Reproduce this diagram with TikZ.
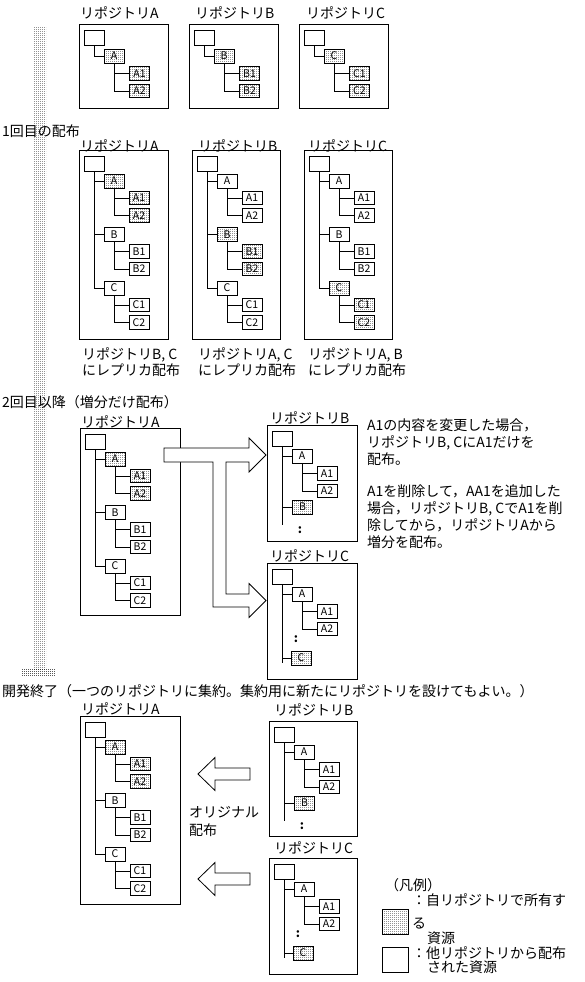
\documentclass[tikz,border=0pt]{standalone}
\usepackage{fontspec}
\setmainfont{Noto Sans CJK JP}
\usetikzlibrary{patterns,positioning}

\pgfdeclarepatternformonly{finedots}{\pgfqpoint{0pt}{0pt}}{\pgfqpoint{2pt}{2pt}}{\pgfqpoint{2pt}{2pt}}{%
	\pgfpathrectangle{\pgfqpoint{0pt}{0pt}}{\pgfqpoint{1pt}{1pt}}\pgfusepath{fill}}

% full tree: root, A/B/C with two leaves each
\newcommand{\fulltree}[4]{%
	\node[rootbox] (#1r) at (15,13.5) {};
	\foreach \c/\y/\s in {A/31/#2,B/84.5/#3,C/138/#4}{
		\node[\s,childbox] (#1\c) at (35,\y) {\c};
		\node[\s,leafbox] (#1\c1) at (60,\y+17) {\c1};
		\node[\s,leafbox] (#1\c2) at (60,\y+34.5) {\c2};
		\draw[tree] (#1r.south) |- (#1\c.west);
		\draw[tree] (#1\c.south) |- (#1\c1.west);
		\draw[tree] (#1\c.south) |- (#1\c2.west);
	}
}
% one branch only
\newcommand{\onetree}[2]{%
	\node[rootbox] (#1r) at (15,14) {};
	\node[own,childbox] (#1c) at (35,32) {#2};
	\node[own,leafbox] (#1c1) at (60.5,49.5) {#21};
	\node[own,leafbox] (#1c2) at (60.5,67) {#22};
	\draw[tree] (#1r.south) |- (#1c.west);
	\draw[tree] (#1c.south) |- (#1c1.west);
	\draw[tree] (#1c.south) |- (#1c2.west);
}
% partial tree: A with leaves, own letter, dots
\newcommand{\parttree}[5]{%
	\node[rootbox] (#1r) at (15,13.5) {};
	\node[childbox] (#1A) at (35,31) {A};
	\node[leafbox] (#1A1) at (60,48.5) {A1};
	\node[leafbox] (#1A2) at (60,66) {A2};
	\node[own,childbox] (#1#2) at (#3,#4) {#2};
	\coordinate (#1end) at (15,100);
	\node[dotsym] (#1dots) at (#5) {:};
	\draw[tree] (#1r.south) -- (#1end);
	\draw[tree] (#1r.south) |- (#1A.west);
	\draw[tree] (#1r.south) |- (#1#2.west);
	\draw[tree] (#1A.south) |- (#1A1.west);
	\draw[tree] (#1A.south) |- (#1A2.west);
}

\begin{document}
\begin{tikzpicture}[
x=1pt,y=-1pt,
repo/.style={
	draw,
	line width=1pt,
	anchor=north west,
	inner sep=0pt
},
rootbox/.style={
	draw,
	line width=0.8pt,
	minimum width=20pt,
	minimum height=15pt,
	inner sep=0pt
},
childbox/.style={
	draw,
	line width=0.8pt,
	minimum width=20pt,
	minimum height=14pt,
	inner sep=0pt,
	font=\fontsize{10.5}{11}\selectfont
},
leafbox/.style={
	childbox,
	minimum height=13.5pt
},
own/.style={
	pattern=finedots,
	pattern color=black
},
dist/.style={},
tree/.style={
	line width=0.8pt
},
dotsym/.style={
	inner sep=0pt,
	font=\fontsize{12}{12}\selectfont\bfseries
},
txt/.style={
	inner sep=0pt,
	anchor=base west,
	align=left,
	font=\fontsize{14}{17}\selectfont
},
bigarrow/.style={
	draw,
	fill=white,
	line width=0.8pt,
	line join=miter
}
]
\useasboundingbox (0,0) rectangle (585,982);

% time line
\fill[pattern=finedots] (33,27) rectangle (46,669);
\fill[pattern=finedots] (21,669) rectangle (55,675);

% ---- start
\foreach \n/\l/\x/\lx in {a/A/79/80,b/B/189/195,c/C/299/306}{
	\node[repo,minimum width=89pt,minimum height=84pt] (s1\n) at (\x,24) {};
	\node[txt] (s1\n lbl) at (\lx,19) {リポジトリ\l};
	\begin{scope}[shift={(\x,24)}]
		\onetree{s1\n}{\l}
	\end{scope}
}

% ---- first distribution
\node[txt] (h1) at (2,136) {1回目の配布};
\node[repo,minimum width=89pt,minimum height=189pt] (s2a) at (79,150) {};
\node[repo,minimum width=88pt,minimum height=189pt] (s2b) at (192,150) {};
\node[repo,minimum width=88pt,minimum height=189pt] (s2c) at (304,150) {};
\begin{scope}[shift={(79,150)}]
	\fulltree{s2a}{own}{dist}{dist}
\end{scope}
\begin{scope}[shift={(192,150)}]
	\fulltree{s2b}{dist}{own}{dist}
\end{scope}
\begin{scope}[shift={(304,150)}]
	\fulltree{s2c}{dist}{dist}{own}
\end{scope}
\node[txt] (s2albl) at (80,151) {リポジトリA};
\node[txt] (s2blbl) at (198,151) {リポジトリB};
\node[txt] (s2clbl) at (308,151) {リポジトリC};
% base of a multi-line node is its last line
\node[txt,font=\fontsize{14}{16}\selectfont] (s2anote) at (82,375) {リポジトリB, C\\にレプリカ配布};
\node[txt,font=\fontsize{14}{16}\selectfont] (s2bnote) at (198,375) {リポジトリA, C\\にレプリカ配布};
\node[txt,font=\fontsize{14}{16}\selectfont] (s2cnote) at (308,375) {リポジトリA, B\\にレプリカ配布};

% ---- second and later
\node[txt] (h2) at (2,407) {2回目以降（増分だけ配布）};
\node[repo,minimum width=100pt,minimum height=187pt] (s3a) at (80,428) {};
\begin{scope}[shift={(80,428)}]
	\fulltree{s3a}{own}{dist}{dist}
\end{scope}
\node[txt] (s3albl) at (81,427) {リポジトリA};
\node[repo,minimum width=90pt,minimum height=116pt] (s3b) at (267,425) {};
\begin{scope}[shift={(267,425)}]
	\parttree{s3b}{B}{35.5}{82}{33,105}
\end{scope}
\node[txt] (s3blbl) at (270,423) {リポジトリB};
\node[repo,minimum width=90pt,minimum height=116pt] (s3c) at (267,563) {};
\begin{scope}[shift={(267,563)}]
	\parttree{s3c}{C}{34}{95}{29,76}
\end{scope}
\node[txt] (s3clbl) at (270,561) {リポジトリC};

\draw[bigarrow] (164,448) -- (249,448) -- (249,438) -- (266,455) -- (249,472)
	-- (249,462) -- (226,462) -- (226,594) -- (249,594) -- (249,583.5)
	-- (266,600.5) -- (249,617.5) -- (249,607) -- (213,607) -- (213,462)
	-- (164,462) -- cycle;

\node[txt] (s3note1) at (367,464) {A1の内容を変更した場合，\\リポジトリB, CにA1だけを\\配布。};
\node[txt] (s3note2) at (367,547) {A1を削除して，AA1を追加した\\場合，リポジトリB, CでA1を削\\除してから，リポジトリAから\\増分を配布。};

% ---- end of development
\node[txt] (h3) at (2,696) {開発終了（一つのリポジトリに集約。集約用に新たにリポジトリを設けてもよい。）};
\node[repo,minimum width=100pt,minimum height=188pt] (s4a) at (80,716) {};
\begin{scope}[shift={(80,716)}]
	\fulltree{s4a}{own}{dist}{dist}
\end{scope}
\node[txt] (s4albl) at (81,714) {リポジトリA};
\node[repo,minimum width=88pt,minimum height=115pt] (s4b) at (269,721) {};
\begin{scope}[shift={(269,721)}]
	\parttree{s4b}{B}{35.5}{82}{33,105}
\end{scope}
\node[txt] (s4blbl) at (274,715) {リポジトリB};
\node[repo,minimum width=88pt,minimum height=116pt] (s4c) at (269,858) {};
\begin{scope}[shift={(269,858)}]
	\parttree{s4c}{C}{34}{95}{29,76}
\end{scope}
\node[txt] (s4clbl) at (274,853) {リポジトリC};

\foreach \y in {774,879}
\draw[bigarrow] (250,\y-6) -- (215,\y-6) -- (215,\y-16.5) -- (198,\y)
	-- (215,\y+16.5) -- (215,\y+6) -- (250,\y+6) -- cycle;
\node[txt,font=\fontsize{14}{18}\selectfont] (orig) at (189,835) {オリジナル\\配布};

% legend
\node[txt] (lg) at (385,890) {（凡例）};
\node[draw,line width=0.8pt,own,minimum width=26pt,minimum height=25pt,anchor=north west] (lgown) at (382,909) {};
\node[draw,line width=1pt,minimum width=26pt,minimum height=25pt,anchor=north west] (lgdist) at (382,947) {};
\node[txt] (lgowntxt) at (412,905) {：自リポジトリで所有す};
\node[txt] (lgowntxt2) at (412,928) {る};
\node[txt] (lgowntxt3) at (427,943) {資源};
\node[txt] (lgdisttxt) at (412,958) {：他リポジトリから配布};
\node[txt] (lgdisttxt2) at (427,972) {された資源};
\end{tikzpicture}
\end{document}
